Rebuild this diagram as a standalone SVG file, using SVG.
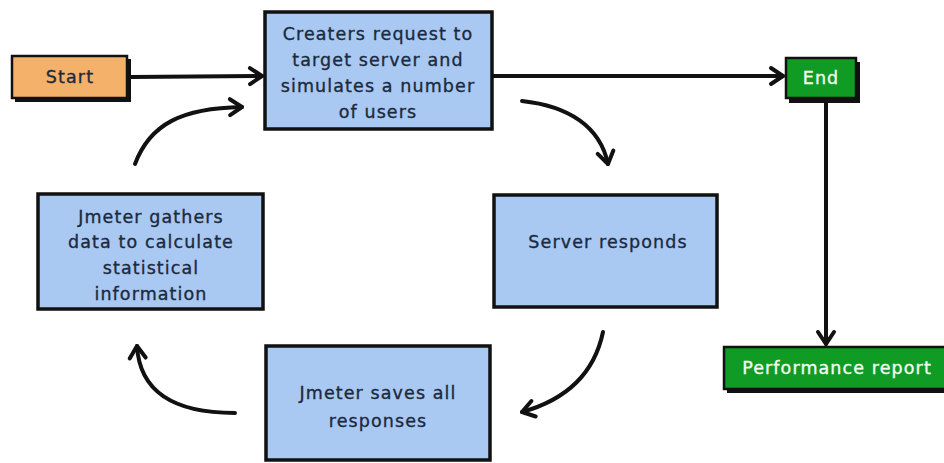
<svg xmlns="http://www.w3.org/2000/svg" width="944" height="463" viewBox="0 0 944 463">
<defs>
<style>
.blue{fill:#a9c9f2;stroke:#111;stroke-width:3.5}
.shadow{fill:#111}
.orange{fill:#f4b169;stroke:#111;stroke-width:2.5}
.green{fill:#0f9b24;stroke:#111;stroke-width:2.5}
.t{font-family:"DejaVu Sans","Liberation Sans",sans-serif;font-size:17.5px;letter-spacing:1.1px;fill:#1c2a3e;stroke:#1c2a3e;stroke-width:0.35px;text-anchor:middle}
.w{fill:#f4fbf2;stroke:#f4fbf2}
.c{fill:none;stroke:#111;stroke-width:4;stroke-linecap:round}
</style>
<marker id="ah" markerUnits="userSpaceOnUse" markerWidth="30" markerHeight="30" viewBox="-15 -15 30 30" refX="0" refY="0" orient="auto">
<path d="M-12,-8 L0,0 L-12,8" fill="none" stroke="#111" stroke-width="4" stroke-linecap="round" stroke-linejoin="round"/>
</marker>
</defs>
<rect width="944" height="463" fill="#fff"/>
<g id="connectors">
<path class="c" d="M130,77 L262,76" marker-end="url(#ah)"/>
<path class="c" d="M493,76 L783,76" marker-end="url(#ah)"/>
<path class="c" d="M826,99 L826,344" marker-end="url(#ah)"/>
<path class="c" d="M522,101 C568,106 600,126 608,164" marker-end="url(#ah)"/>
<path class="c" d="M603,332 C594,375 565,400 522,412" marker-end="url(#ah)"/>
<path class="c" d="M235,413 C183,413 140,398 137,346" marker-end="url(#ah)"/>
<path class="c" d="M135,164 C150,124 182,108 242,107" marker-end="url(#ah)"/>
</g>
<g id="start">
<rect class="shadow" x="15" y="59" width="116" height="43"/>
<rect class="orange" x="12" y="56" width="115" height="42"/>
<text class="t" x="70" y="83">Start</text>
</g>
<g id="create">
<rect class="blue" x="265" y="12" width="227" height="117"/>
<text class="t" x="378" y="40">Creaters request to</text>
<text class="t" x="378" y="66">target server and</text>
<text class="t" x="378" y="92">simulates a number</text>
<text class="t" x="378" y="118">of users</text>
</g>
<g id="end">
<rect class="shadow" x="789" y="62" width="71" height="41"/>
<rect class="green" x="786" y="58" width="70" height="40"/>
<text class="t w" x="821" y="84">End</text>
</g>
<g id="server">
<rect class="blue" x="494" y="195" width="223" height="112"/>
<text class="t" x="608" y="248">Server responds</text>
</g>
<g id="gathers">
<rect class="blue" x="38" y="194" width="225" height="115"/>
<text class="t" x="151" y="223">Jmeter gathers</text>
<text class="t" x="151" y="248">data to calculate</text>
<text class="t" x="151" y="274">statistical</text>
<text class="t" x="151" y="300">information</text>
</g>
<g id="saves">
<rect class="blue" x="266" y="346" width="224" height="114"/>
<text class="t" x="378" y="399">Jmeter saves all</text>
<text class="t" x="378" y="427">responses</text>
</g>
<g id="report">
<rect class="shadow" x="727" y="351" width="220" height="42"/>
<rect class="green" x="724" y="347" width="222" height="42"/>
<text class="t w" x="837" y="374">Performance report</text>
</g>
</svg>
